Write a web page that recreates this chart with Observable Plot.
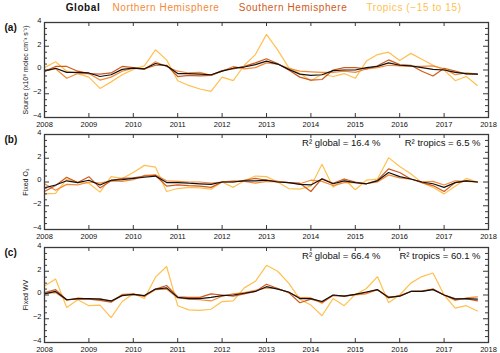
<!DOCTYPE html>
<html><head><meta charset="utf-8">
<script src="https://cdn.jsdelivr.net/npm/d3@7"></script>
<script src="https://cdn.jsdelivr.net/npm/@observablehq/plot@0.6"></script>
<style>
body{margin:0;background:#fff;font-family:'Liberation Sans',Arial,sans-serif}
#c{position:relative;width:500px;height:353px;overflow:hidden}
.p{position:absolute;left:0}
.lg{position:absolute;top:2px;font-size:10px;letter-spacing:0.6px;transform:translateX(-50%);white-space:nowrap}
</style></head><body><div id="c"></div>
<script>
// ---- data ----
const seriesNames = ["Global", "Northern Hemisphere", "Southern Hemisphere", "Tropics (\u221215 to 15)"];
const seriesColors = ["#111111", "#f48a38", "#cf5a1c", "#ffc050"];
const yearTicks = [2008, 2009, 2010, 2011, 2012, 2013, 2014, 2015, 2016, 2017, 2018];
const yMajor = [-4, -2, 0, 2, 4];
const yMinor = [-3.5, -3, -2.5, -1.5, -1, -0.5, 0.5, 1, 1.5, 2.5, 3, 3.5];
const firstYear = 2008, perYear = 4;

// panel (a) Source
const globalA  = [-0.1,0.15,-0.2,-0.2,-0.25,-0.55,-0.4,0.05,0.15,0.1,0.55,0.35,-0.3,-0.3,-0.35,-0.4,-0.1,0.15,0.25,0.45,0.75,0.5,0.05,-0.35,-0.45,-0.4,-0.05,0.0,0.0,0.2,0.3,0.6,0.4,0.35,0.2,0.05,0.0,-0.2,-0.3,-0.35];
const nhA      = [-0.05,0.1,-0.7,-0.3,-0.3,-0.85,-0.6,-0.1,0.15,0.05,0.7,0.3,-0.1,-0.25,-0.2,-0.45,-0.1,0.3,0.1,0.2,0.6,0.5,0.15,-0.1,-0.15,-0.2,-0.2,-0.1,-0.2,0.1,0.2,0.4,0.35,0.3,0.3,0.35,0.1,-0.4,-0.25,-0.35];
const shA      = [-0.1,0.3,0.3,-0.1,-0.3,-0.35,-0.25,0.3,0.2,0.1,0.4,0.4,-0.55,-0.45,-0.5,-0.45,-0.05,0.1,0.3,0.6,0.95,0.55,0.0,-0.6,-0.85,-0.8,0.0,0.2,0.2,0.1,0.35,0.85,0.45,0.4,-0.1,-0.5,0.15,-0.1,-0.35,-0.35];
const tropicsA = [0.2,0.7,-0.1,-0.3,-0.6,-1.55,-1.0,-0.4,0.05,0.35,1.7,0.85,-0.9,-1.3,-1.6,-1.8,-0.6,-0.9,0.4,1.3,3.0,1.7,0.2,-0.3,-0.9,-0.35,-0.55,-0.3,-0.7,0.75,1.3,1.5,0.8,1.4,0.9,0.4,0.0,-0.9,-0.55,-1.3];

// panel (b) Fixed O3
const globalB  = [-0.5,-0.25,0.1,-0.05,0.15,-0.25,0.15,0.2,0.3,0.4,0.5,-0.05,-0.05,-0.1,-0.15,-0.2,0.0,0.0,0.1,0.1,0.15,0.0,-0.05,-0.2,-0.25,0.25,-0.15,0.1,-0.05,-0.15,0.1,0.8,0.45,0.25,0.0,-0.15,-0.45,-0.05,0.1,0.0];
const nhB      = [-0.15,-0.7,-0.2,-0.25,0.0,-0.1,0.1,0.05,0.2,0.55,0.6,0.1,0.05,0.0,0.0,-0.1,0.0,0.1,0.05,-0.1,0.05,0.0,-0.05,-0.15,0.15,0.05,-0.3,-0.05,-0.05,-0.15,0.0,0.6,0.35,0.25,0.0,0.05,-0.25,0.1,0.05,0.0];
const shB      = [-0.8,-0.3,0.4,-0.05,0.45,-0.5,0.1,0.3,0.35,0.5,0.55,-0.35,-0.25,-0.3,-0.35,-0.45,0.0,0.0,0.15,0.3,0.15,0.05,-0.05,-0.1,-0.8,0.3,-0.1,0.25,0.0,-0.15,0.15,1.1,0.8,0.25,-0.05,-0.3,-0.8,-0.05,0.1,0.0];
const tropicsB = [-1.0,-0.95,0.25,-0.05,-0.1,-0.85,0.45,0.3,0.8,1.4,1.25,-0.8,-0.55,-0.45,-0.5,-0.6,0.0,-0.45,0.1,0.5,0.45,0.0,-0.55,-0.6,-0.35,1.5,-0.45,0.25,-0.65,0.15,0.25,2.05,1.3,0.7,-0.05,-0.45,-1.0,-0.35,0.3,0.0];

// panel (c) Fixed WV
const globalC  = [0.1,0.3,-0.4,-0.3,-0.3,-0.35,-0.5,-0.05,0.05,-0.05,0.5,0.6,-0.2,-0.3,-0.3,-0.2,-0.05,0.0,0.15,0.3,0.7,0.5,0.25,-0.3,-0.3,-0.55,0.0,-0.1,0.05,0.25,0.45,-0.2,-0.1,0.3,0.3,0.45,0.0,-0.35,-0.3,-0.35];
const nhC      = [0.15,0.2,-0.45,-0.25,-0.35,-0.3,-0.55,0.05,0.1,-0.1,0.45,0.5,-0.25,-0.35,-0.4,-0.5,-0.1,0.1,0.2,0.4,0.6,0.55,0.2,-0.2,-0.25,-0.7,0.0,-0.1,0.0,0.1,0.45,-0.15,-0.1,0.3,0.35,0.5,0.0,-0.45,-0.25,-0.15];
const shC      = [0.2,0.45,-0.4,-0.35,-0.35,-0.45,-0.6,0.0,0.05,-0.1,0.5,0.8,-0.15,-0.2,-0.2,0.1,0.0,-0.1,0.1,0.3,0.9,0.55,0.2,-0.65,-0.35,-0.6,-0.05,-0.1,0.05,0.2,0.45,-0.25,-0.05,0.3,0.3,0.5,0.0,-0.3,-0.3,-0.5];
const tropicsC = [0.75,1.35,-1.05,-0.4,-0.9,-0.85,-1.9,-0.55,0.1,-0.3,1.5,2.4,-0.9,-1.25,-1.3,-1.2,-0.55,-0.5,0.6,1.15,2.5,2.0,1.0,-0.35,-0.85,-1.75,-0.3,-0.9,0.05,0.55,1.55,-0.65,0.0,1.0,1.55,1.85,0.0,-1.1,-0.9,-1.35];

const panelTags = ["(a)", "(b)", "(c)"];
const yLabels = ["Source (x10\u2078 molec cm\u207B\u00B3 s\u207B\u00B9)", "Fixed O\u2083", "Fixed WV"];
const r2Global = [null, 16.4, 66.4];
const r2Tropics = [null, 6.5, 60.1];

// ---- drawing ----
const W = 500, mL = 44, mR = 12, mT = 14, mB = 13, PH = 95;
const PW = W - mL - mR;
const frameTops = [22, 134, 247];
const panels = [
  [globalA, nhA, shA, tropicsA],
  [globalB, nhB, shB, tropicsB],
  [globalC, nhC, shC, tropicsC]
];
const ink = "#3a3a3a";
const root = document.getElementById("c");

// legend
const legendCenters = [83, 166, 293, 414];
seriesNames.forEach((n, k) => {
  const s = document.createElement("span");
  s.className = "lg"; s.textContent = n;
  s.style.left = legendCenters[k] + "px";
  s.style.color = seriesColors[k];
  if (k === 0) s.style.fontWeight = "bold";
  root.appendChild(s);
});

panels.forEach((vals, p) => {
  const order = [3, 1, 2, 0];
  const rows = order.flatMap(k => vals[k].map((v, i) => ({t: firstYear + i / perYear, v, name: seriesNames[k]})));
  const ann = [];
  if (r2Global[p] != null) {
    ann.push(Plot.text([`R\u00B2 global = ${r2Global[p]} %`], {text: d => d, frameAnchor: "top-right", dx: -108, dy: 8, textAnchor: "end", lineAnchor: "middle", fontSize: 9.5, fill: "#111"}));
    ann.push(Plot.text([`R\u00B2 tropics = ${r2Tropics[p]} %`], {text: d => d, frameAnchor: "top-right", dx: -8, dy: 8, textAnchor: "end", lineAnchor: "middle", fontSize: 9.5, fill: "#111"}));
  }
  const svg = Plot.plot({
    width: W, height: PH + mT + mB,
    marginLeft: mL, marginRight: mR, marginTop: mT, marginBottom: mB,
    style: {background: "none", overflow: "visible", fontFamily: "'Liberation Sans', Arial, sans-serif"},
    x: {domain: [2008, 2018]},
    y: {domain: [-4, 4]},
    color: {domain: seriesNames, range: seriesColors},
    marks: [
      Plot.line(rows, {x: "t", y: "v", z: "name", stroke: "name", strokeWidth: 1.2, strokeLinejoin: "miter"}),
      Plot.frame({stroke: ink, strokeWidth: 1.3}),
      Plot.tickY(yMajor, {y: d => d, insetRight: PW - 5, stroke: ink}),
      Plot.tickY(yMajor, {y: d => d, insetLeft: PW - 5, stroke: ink}),
      Plot.tickY(yMinor, {y: d => d, insetRight: PW - 3, stroke: ink}),
      Plot.tickY(yMinor, {y: d => d, insetLeft: PW - 3, stroke: ink}),
      Plot.tickX(yearTicks, {x: d => d, insetTop: PH - 4, stroke: ink}),
      Plot.tickX(yearTicks, {x: d => d, insetBottom: PH - 4, stroke: ink}),
      Plot.axisX({ticks: yearTicks, tickSize: 0, tickPadding: 4, fontSize: 7.5, tickFormat: d => String(d), label: null, fill: "#111"}),
      Plot.axisY({ticks: yMajor, tickSize: 0, tickPadding: 3, dy: -2, fontSize: 7.5, tickFormat: d => d === 0 ? "0" : d3.format("")(d).replace("-", "\u2212"), label: null, fill: "#111"}),
      Plot.text([yLabels[p]], {text: d => d, frameAnchor: "left", rotate: -90, dx: -19, textAnchor: "middle", lineAnchor: "middle", fontSize: 7, fill: "#111"}),
      Plot.text([panelTags[p]], {text: d => d, frameAnchor: "top-left", dx: -40, dy: 5, textAnchor: "start", lineAnchor: "middle", fontSize: 10, fontWeight: "bold", fill: "#111"}),
      ...ann
    ]
  });
  svg.classList.add("p");
  svg.style.top = (frameTops[p] - mT) + "px";
  root.appendChild(svg);
});
</script></body></html>
